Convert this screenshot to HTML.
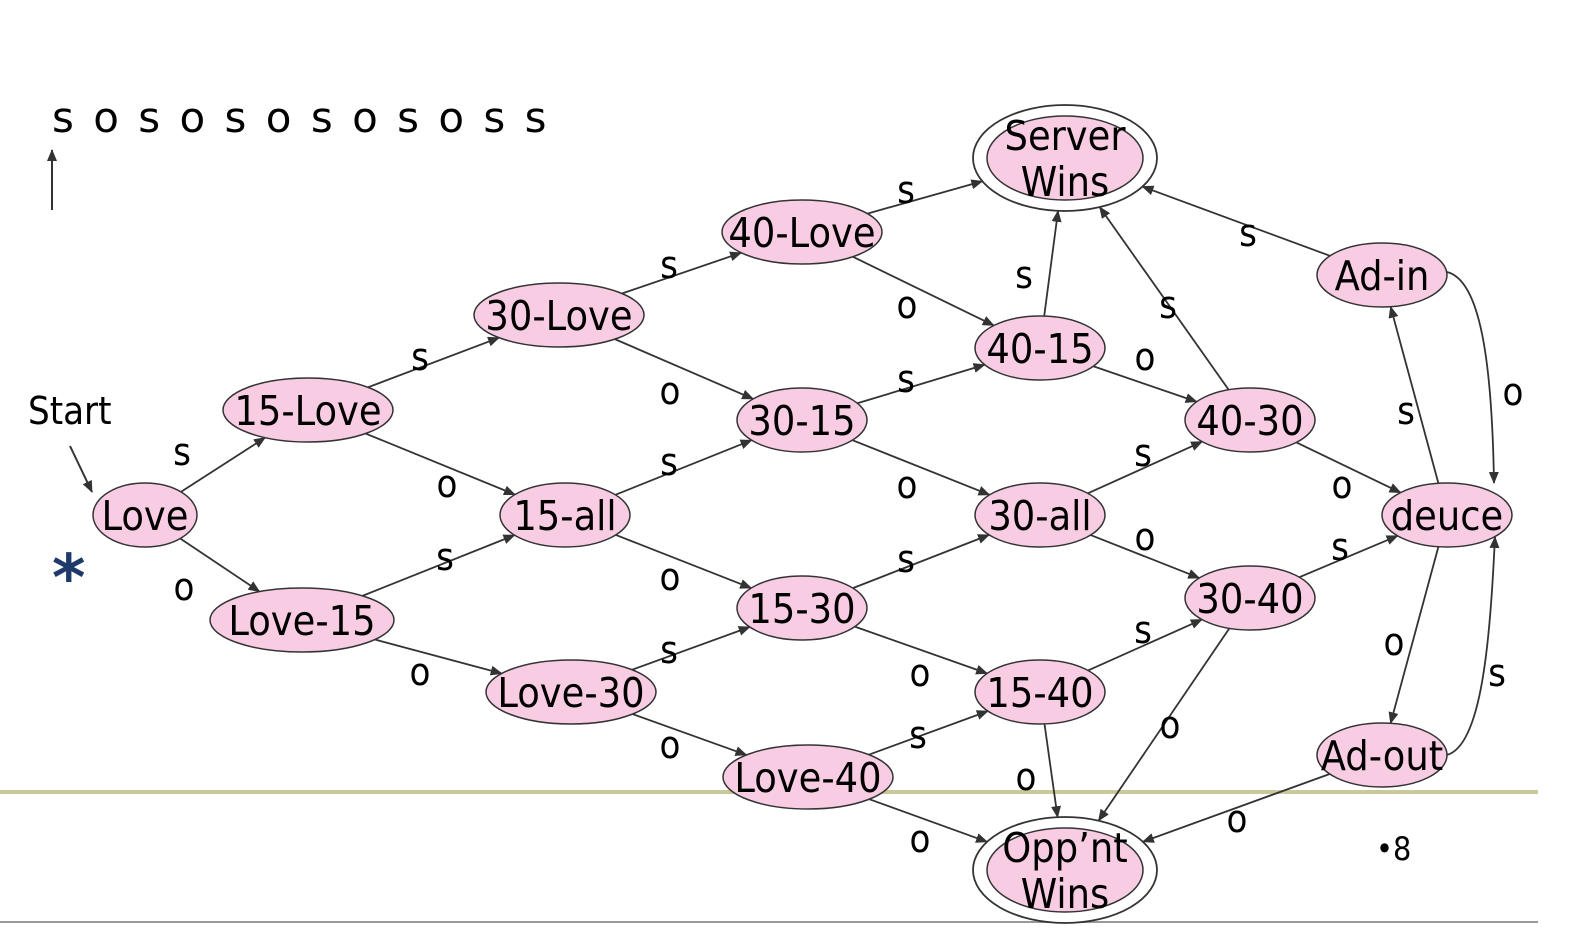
<!DOCTYPE html>
<html><head><meta charset="utf-8"><style>
html,body{margin:0;padding:0;background:#fff;width:1588px;height:936px;overflow:hidden}
svg{display:block}
text{font-family:"DejaVu Sans Condensed","Liberation Sans Narrow","Liberation Sans",sans-serif;fill:#000}
</style></head><body>
<svg id="s" width="1588" height="936" viewBox="0 0 1588 936" xmlns="http://www.w3.org/2000/svg">
<defs><marker id="a" markerWidth="12" markerHeight="10" refX="11" refY="5" orient="auto" markerUnits="userSpaceOnUse"><path d="M0,0 L12,5 L0,10 z" fill="#333"/></marker></defs>
<line x1="0" y1="792" x2="1538" y2="792" stroke="#c9c99c" stroke-width="4"/>
<line x1="0" y1="922" x2="1538" y2="922" stroke="#999" stroke-width="2"/>
<text x="52" y="132" font-size="42" style="font-family:'DejaVu Sans','Liberation Sans',sans-serif" letter-spacing="3">s o s o s o s o s o s s</text>
<line x1="52" y1="210" x2="52" y2="150" stroke="#333" stroke-width="2" marker-end="url(#a)"/>
<text x="28" y="424" font-size="38">Start</text>
<line x1="70" y1="446" x2="92" y2="492" stroke="#333" stroke-width="2" marker-end="url(#a)"/>
<text x="52" y="600" font-size="64" style="fill:#1f3a6a;font-family:'DejaVu Sans',sans-serif;font-weight:bold">*</text>
<text x="1376" y="860" font-size="32">•8</text>
<g id="e"></g><g id="n"></g><g id="l"></g>
</svg>
<script>
var N={
Love:[145,515,52,32,"Love"],L15:[308,410,85,32,"15-Love"],Lv15:[302,620,92,32,"Love-15"],
L30:[559,315,85,32,"30-Love"],A15:[565,515,65,32,"15-all"],Lv30:[571,692,85,32,"Love-30"],
L40:[802,232,80,32,"40-Love"],T3015:[802,420,65,32,"30-15"],T1530:[802,608,65,32,"15-30"],Lv40:[808,777,85,32,"Love-40"],
SW:[1065,158,92,53,"Server|Wins"],T4015:[1040,348,65,32,"40-15"],A30:[1040,515,65,32,"30-all"],T1540:[1040,692,65,32,"15-40"],
OW:[1065,870,92,53,"Opp’nt|Wins"],T4030:[1250,420,65,32,"40-30"],T3040:[1250,598,65,32,"30-40"],
AI:[1382,275,65,32,"Ad-in"],D:[1447,515,65,32,"deuce"],AO:[1382,755,65,32,"Ad-out"]};
var E=[["Love","L15"],["Love","Lv15"],["L15","L30"],["L15","A15"],["Lv15","A15"],["Lv15","Lv30"],["L30","L40"],["L30","T3015"],["A15","T3015"],["A15","T1530"],["Lv30","T1530"],["Lv30","Lv40"],["L40","SW"],["L40","T4015"],["T3015","T4015"],["T3015","A30"],["T1530","A30"],["T1530","T1540"],["Lv40","T1540"],["Lv40","OW"],["T4015","SW"],["T4015","T4030"],["A30","T4030"],["A30","T3040"],["T1540","T3040"],["T1540","OW"],["T4030","SW"],["T4030","D"],["T3040","D"],["T3040","OW"],["D","AI"],["D","AO"],["AI","SW"],["AO","OW"]];
var NS="http://www.w3.org/2000/svg";
function el(t,a,p){var e=document.createElementNS(NS,t);for(var k in a)e.setAttribute(k,a[k]);document.getElementById(p).appendChild(e);return e;}
function clip(n,dx,dy){var rx=n[2],ry=n[3];var t=1/Math.sqrt(dx*dx/(rx*rx)+dy*dy/(ry*ry));return [n[0]+dx*t,n[1]+dy*t];}
E.forEach(function(p){var a=N[p[0]],b=N[p[1]];var dx=b[0]-a[0],dy=b[1]-a[1];var s=clip(a,dx,dy),t=clip(b,-dx,-dy);
el("line",{x1:s[0],y1:s[1],x2:t[0],y2:t[1],stroke:"#333","stroke-width":1.8,"marker-end":"url(#a)"},"e");});
el("path",{d:"M1447,272 C1480,280 1492,360 1494,483",fill:"none",stroke:"#333","stroke-width":1.8,"marker-end":"url(#a)"},"e");
el("path",{d:"M1447,755 C1482,745 1490,640 1495,537",fill:"none",stroke:"#333","stroke-width":1.8,"marker-end":"url(#a)"},"e");
for(var k in N){var n=N[k];
if(k=="SW"||k=="OW"){el("ellipse",{cx:n[0],cy:n[1],rx:n[2],ry:n[3],fill:"#fff",stroke:"#333","stroke-width":1.8},"n");
el("ellipse",{cx:n[0],cy:n[1],rx:n[2]-14,ry:n[3]-11,fill:"#f8cde3",stroke:"#333","stroke-width":1.5},"n");
var ls=n[4].split("|");var t1=el("text",{x:n[0],y:n[1]-8,"font-size":41,"text-anchor":"middle"},"n");t1.textContent=ls[0];
var t2=el("text",{x:n[0],y:n[1]+38,"font-size":41,"text-anchor":"middle"},"n");t2.textContent=ls[1];}
else{el("ellipse",{cx:n[0],cy:n[1],rx:n[2],ry:n[3],fill:"#f8cde3",stroke:"#333","stroke-width":1.5},"n");
var t=el("text",{x:n[0],y:n[1]+15,"font-size":41,"text-anchor":"middle"},"n");t.textContent=n[4];}}
var L=[["s",182,465],["o",184,600],["s",420,370],["o",447,497],["s",445,570],["o",420,685],["s",669,278],["o",670,404],["s",669,475],["o",670,590],["s",669,663],["o",670,758],
["s",906,203],["o",907,318],["s",906,392],["o",907,498],["s",906,572],["o",920,686],["s",918,748],["o",920,852],
["s",1024,288],["o",1145,370],["s",1168,318],["s",1143,466],["o",1145,550],["s",1143,643],["o",1026,790],["o",1170,738],
["s",1248,246],["o",1342,498],["s",1340,560],["s",1406,424],["o",1513,405],["o",1394,655],["s",1497,686],["o",1237,832]];
L.forEach(function(q){var t=el("text",{x:q[1],y:q[2],"font-size":38,"text-anchor":"middle"},"l");t.textContent=q[0];});
</script>
</body></html>
